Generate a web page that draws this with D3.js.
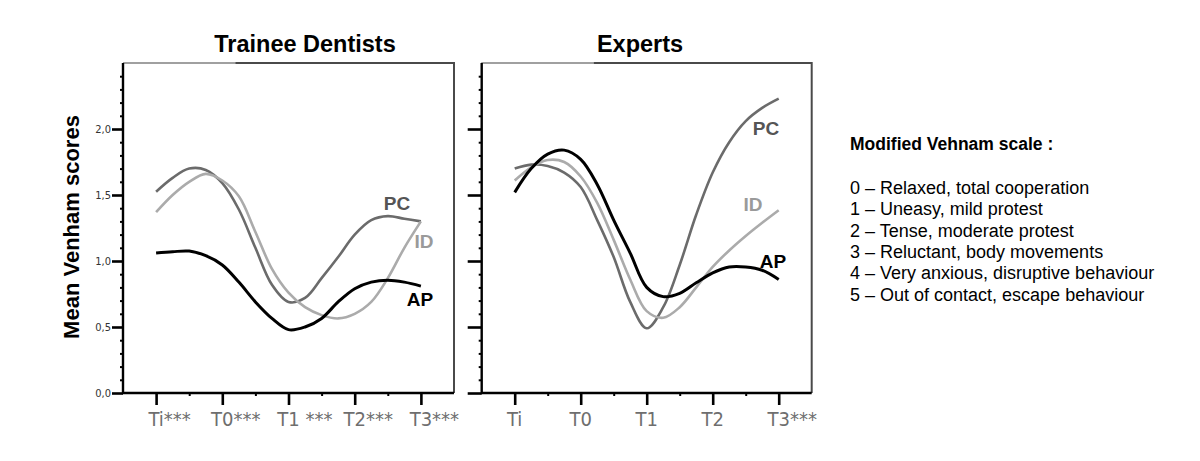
<!DOCTYPE html>
<html>
<head>
<meta charset="utf-8">
<script src="https://cdn.jsdelivr.net/npm/d3@7"></script>
<style>
  body { margin: 0; background: #fff; }
  svg { display: block; }
</style>
</head>
<body>
<div id="chart"></div>
<script>
// time points on the x axis, with significance markers per panel
const timepoints = ["Ti", "T0", "T1", "T2", "T3"];
const sigTrainee = ["***", "***", " ***", "***", "***"];
const sigExperts = ["", "", "", "", "***"];

// positions (in time-point units) where the curves were read
const steps = [0, 0.25, 0.5, 0.75, 1, 1.25, 1.5, 1.75, 2, 2.25, 2.5, 2.75, 3, 3.25, 3.5, 3.75, 4];

// Trainee Dentists
const traineePC = [1.525, 1.63, 1.70, 1.69, 1.59, 1.39, 1.10, 0.82, 0.69, 0.72, 0.87, 1.03, 1.20, 1.31, 1.34, 1.32, 1.30];
const traineeID = [1.37, 1.50, 1.60, 1.66, 1.61, 1.49, 1.22, 0.94, 0.76, 0.65, 0.59, 0.565, 0.60, 0.69, 0.87, 1.10, 1.30];
const traineeAP = [1.06, 1.07, 1.075, 1.04, 0.97, 0.84, 0.69, 0.565, 0.48, 0.50, 0.565, 0.69, 0.79, 0.84, 0.855, 0.84, 0.81];

// Experts
const expertsPC = [1.70, 1.73, 1.72, 1.67, 1.56, 1.31, 1.03, 0.69, 0.49, 0.65, 0.97, 1.35, 1.67, 1.90, 2.06, 2.16, 2.23];
const expertsID = [1.61, 1.71, 1.765, 1.75, 1.64, 1.44, 1.16, 0.86, 0.62, 0.57, 0.65, 0.80, 0.955, 1.08, 1.19, 1.29, 1.385];
const expertsAP = [1.52, 1.70, 1.81, 1.84, 1.77, 1.58, 1.31, 1.06, 0.80, 0.73, 0.755, 0.835, 0.91, 0.955, 0.955, 0.93, 0.86];

// y axis ticks
const yMajor = [0, 0.5, 1, 1.5, 2];
const yTickLabels = ["0,0", "0,5", "1,0", "1,5", "2,0"];
const yMinor = [0.1, 0.2, 0.3, 0.4, 0.6, 0.7, 0.8, 0.9, 1.1, 1.2, 1.3, 1.4, 1.6, 1.7, 1.8, 1.9, 2.1, 2.2, 2.3, 2.4];
const xMinor = [0.5, 1.5, 2.5, 3.5];

const scaleTitle = "Modified Vehnam scale :";
const scaleItems = [
    "0 \u2013 Relaxed, total cooperation",
    "1 \u2013 Uneasy, mild protest",
    "2 \u2013 Tense, moderate protest",
    "3 \u2013 Reluctant, body movements",
    "4 \u2013 Very anxious, disruptive behaviour",
    "5 \u2013 Out of contact, escape behaviour"
];

const seriesStyle = {
    PC: { color: "#6b6b6b", label: "#555555", width: 2.6 },
    ID: { color: "#ababab", label: "#9a9a9a", width: 2.6 },
    AP: { color: "#000000", label: "#000000", width: 3 }
};

var width = 1200;
var height = 461;

const svg = d3.select("#chart")
    .append("svg")
    .attr("width", width)
    .attr("height", height)
    .style("background-color", "#fff");

const y = d3.scaleLinear()
    .domain([0, 2.5])
    .range([393, 63]);

const panels = [
    {
        title: "Trainee Dentists", titleX: 305, range: [123, 454], labels: true, tickLen: 11,
        sig: sigTrainee,
        series: [
            { name: "PC", values: traineePC, lx: 397, ly: 210 },
            { name: "ID", values: traineeID, lx: 424, ly: 248 },
            { name: "AP", values: traineeAP, lx: 420, ly: 306 }
        ]
    },
    {
        title: "Experts", titleX: 640, range: [481.7, 811.7], labels: false, tickLen: 14,
        sig: sigExperts,
        series: [
            { name: "PC", values: expertsPC, lx: 766, ly: 135 },
            { name: "ID", values: expertsID, lx: 753, ly: 211 },
            { name: "AP", values: expertsAP, lx: 773, ly: 268 }
        ]
    }
];

panels.forEach(function (p) {
    const x = d3.scaleLinear().domain([-0.5, 4.5]).range(p.range);
    const g = svg.append("g");

    // title
    g.append("text")
        .text(p.title)
        .attr("x", p.titleX)
        .attr("y", 52)
        .attr("text-anchor", "middle")
        .style("font-family", "'Liberation Sans', Arial, sans-serif")
        .style("font-weight", "bold")
        .style("font-size", "23.5px")
        .attr("fill", "#000");

    // frame: top + right gray, with lighter start of top line
    g.append("path")
        .attr("d", `M${x(-0.5)},${y(2.5)}H${x(4.5)}V${y(0)}`)
        .attr("fill", "none")
        .attr("stroke", "#4a4a4a")
        .attr("stroke-width", 2);
    g.append("line")
        .attr("x1", x(-0.5)).attr("x2", x(1.2))
        .attr("y1", y(2.5)).attr("y2", y(2.5))
        .attr("stroke", "#a0a0a0")
        .attr("stroke-width", 2);

    // y axis
    const yAxis = d3.axisLeft(y)
        .tickValues(yMajor)
        .tickSize(p.tickLen)
        .tickFormat(function (d, i) { return p.labels ? yTickLabels[i] : ""; });
    const ya = g.append("g")
        .attr("transform", `translate(${x(-0.5)},0)`)
        .call(yAxis);
    ya.select(".domain").remove();
    ya.selectAll(".tick line").attr("stroke", "#000").attr("stroke-width", 2.6);
    ya.selectAll(".tick text")
        .attr("x", -p.tickLen - 1)
        .style("font-family", "'Liberation Sans Narrow', 'DejaVu Sans Condensed', sans-serif")
        .style("font-size", "11px")
        .attr("fill", "#333");

    const yMin = d3.axisLeft(y).tickValues(yMinor).tickSize(3).tickFormat("");
    const ym = g.append("g")
        .attr("transform", `translate(${x(-0.5)},0)`)
        .call(yMin);
    ym.select(".domain").remove();
    ym.selectAll(".tick line").attr("stroke", "#000").attr("stroke-width", 2);

    // x axis
    const xAxis = d3.axisBottom(x)
        .tickValues([0, 1, 2, 3, 4])
        .tickSize(12)
        .tickFormat("");
    const xa = g.append("g")
        .attr("transform", `translate(0,${y(0)})`)
        .call(xAxis);
    xa.select(".domain").remove();
    xa.selectAll(".tick line").attr("stroke", "#000").attr("stroke-width", 2.6);

    const xMin = d3.axisBottom(x).tickValues(xMinor).tickSize(3).tickFormat("");
    const xm = g.append("g")
        .attr("transform", `translate(0,${y(0)})`)
        .call(xMin);
    xm.select(".domain").remove();
    xm.selectAll(".tick line").attr("stroke", "#000").attr("stroke-width", 2);

    // x labels: base label centred on tick, markers appended
    timepoints.forEach(function (t, i) {
        const txt = g.append("text")
            .attr("y", 426)
            .style("font-family", "'Liberation Sans Narrow', 'DejaVu Sans Condensed', sans-serif")
            .style("font-size", "20px")
            .attr("fill", "#6e6e6e");
        const base = txt.append("tspan").text(t);
        txt.append("tspan").text(p.sig[i]);
        const w = base.node().getComputedTextLength();
        txt.attr("x", x(i) - w / 2);
    });

    // left + bottom axis lines
    g.append("path")
        .attr("d", `M${x(-0.5)},${y(2.5)}V${y(0)}H${x(4.5)}`)
        .attr("fill", "none")
        .attr("stroke", "#000")
        .attr("stroke-width", 2.4);

    // curves
    const line = d3.line()
        .x(function (d, i) { return x(steps[i]); })
        .y(function (d) { return y(d); })
        .curve(d3.curveCatmullRom.alpha(0.5));

    p.series.forEach(function (s) {
        const st = seriesStyle[s.name];
        g.append("path")
            .datum(s.values)
            .attr("d", line)
            .attr("fill", "none")
            .attr("stroke", st.color)
            .attr("stroke-width", st.width)
            .attr("stroke-linejoin", "round");
        g.append("text")
            .text(s.name)
            .attr("x", s.lx)
            .attr("y", s.ly)
            .attr("text-anchor", "middle")
            .style("font-family", "'Liberation Sans', Arial, sans-serif")
            .style("font-weight", "bold")
            .style("font-size", "19px")
            .attr("fill", st.label);
    });
});

// y axis title
svg.append("text")
    .text("Mean Venham scores")
    .attr("transform", "translate(79,227) rotate(-90)")
    .attr("text-anchor", "middle")
    .style("font-family", "'Liberation Sans', Arial, sans-serif")
    .style("font-weight", "bold")
    .style("font-size", "22px")
    .attr("fill", "#000");

// scale description
const legend = svg.append("g").attr("transform", "translate(850,0)");
legend.append("text")
    .text(scaleTitle)
    .attr("y", 150)
    .style("font-family", "'Liberation Sans', Arial, sans-serif")
    .style("font-weight", "bold")
    .style("font-size", "17.5px")
    .attr("fill", "#000");
legend.selectAll(".item")
    .data(scaleItems)
    .enter()
    .append("text")
    .attr("class", "item")
    .text(function (d) { return d; })
    .attr("y", function (d, i) { return 194 + i * 21.34; })
    .style("font-family", "'Liberation Sans', Arial, sans-serif")
    .style("font-size", "18px")
    .attr("fill", "#000");
</script>
</body>
</html>
